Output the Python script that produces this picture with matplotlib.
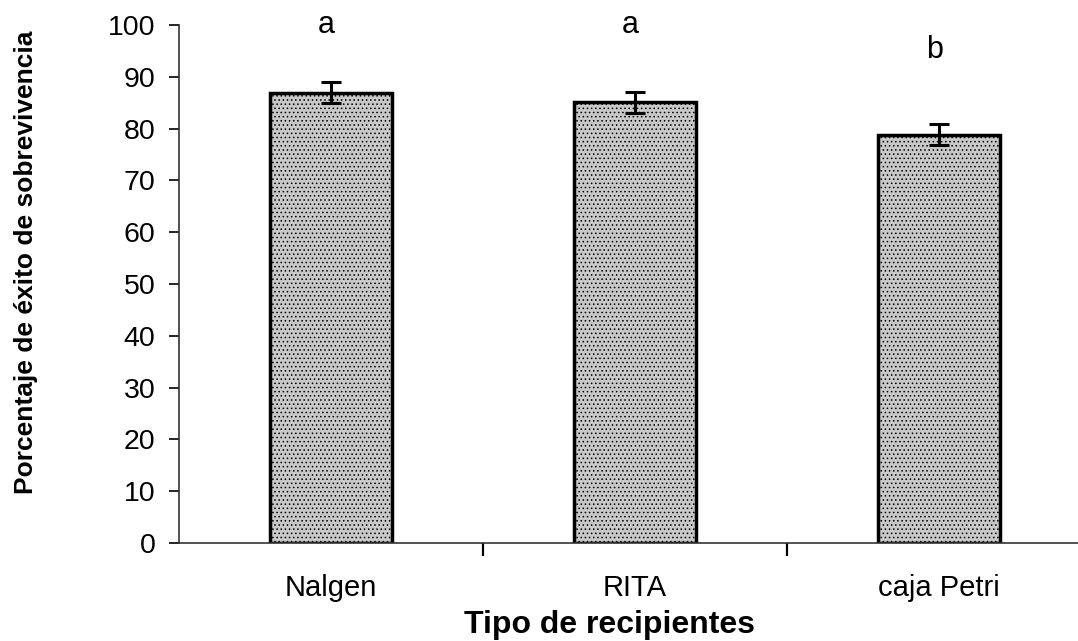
import matplotlib
matplotlib.use("Agg")
import matplotlib.pyplot as plt

# Survival success by container type
categories = ["Nalgen", "RITA", "caja Petri"]
survival = [86.9, 85.1, 78.8]
errors = [2.0, 2.0, 2.0]
groups = ["a", "a", "b"]
group_y = [100.0, 100.0, 95.2]
yticks = [0, 10, 20, 30, 40, 50, 60, 70, 80, 90, 100]

plt.rcParams["font.family"] = ["Liberation Sans", "DejaVu Sans"]
plt.rcParams["hatch.color"] = "#8c8c8c"
plt.rcParams["hatch.linewidth"] = 0.6

fig = plt.figure(figsize=(10.78, 6.41), dpi=100)
ax = fig.add_axes([179 / 1078, 1 - 543 / 641, 912 / 1078, 518 / 641])

x = list(range(len(categories)))
ax.bar(x, survival, width=0.4, color="#c8c8c8", edgecolor="black",
       linewidth=2.5, hatch="....", zorder=2)
ax.errorbar(x, survival, yerr=errors, fmt="none", ecolor="black",
            elinewidth=2.2, capsize=7.5, capthick=2.2, zorder=3)

for xi, g, gy in zip(x, groups, group_y):
    ax.text(xi - 0.015, gy, g, ha="center", va="center", fontsize=22)

ax.set_xlim(-0.5, 2.5)
ax.set_ylim(0, 100)
ax.set_yticks(yticks)
ax.tick_params(axis="y", direction="out", length=7, width=1.2, labelsize=20.5, pad=10)

# category labels in the middle, tick marks at the category boundaries
ax.set_xticks(x)
ax.set_xticklabels(categories, fontsize=21)
ax.tick_params(axis="x", which="major", length=0, pad=22)
ax.set_xticks([0.5, 1.5], minor=True)
ax.tick_params(axis="x", which="minor", direction="out", length=9, width=1.6)

for s in ("top", "right"):
    ax.spines[s].set_visible(False)
for s in ("left", "bottom"):
    ax.spines[s].set_linewidth(1.2)
    ax.spines[s].set_color("#333333")

ax.set_xlabel("Tipo de recipientes", fontsize=23, fontweight="bold", va="center")
ax.xaxis.set_label_coords(0.4715, -0.158)
ax.set_ylabel("Porcentaje de éxito de sobrevivencia", fontsize=19,
              fontweight="bold", va="center")
ax.yaxis.set_label_coords(-0.168, 0.542)

fig.savefig("out.png", dpi=100)
